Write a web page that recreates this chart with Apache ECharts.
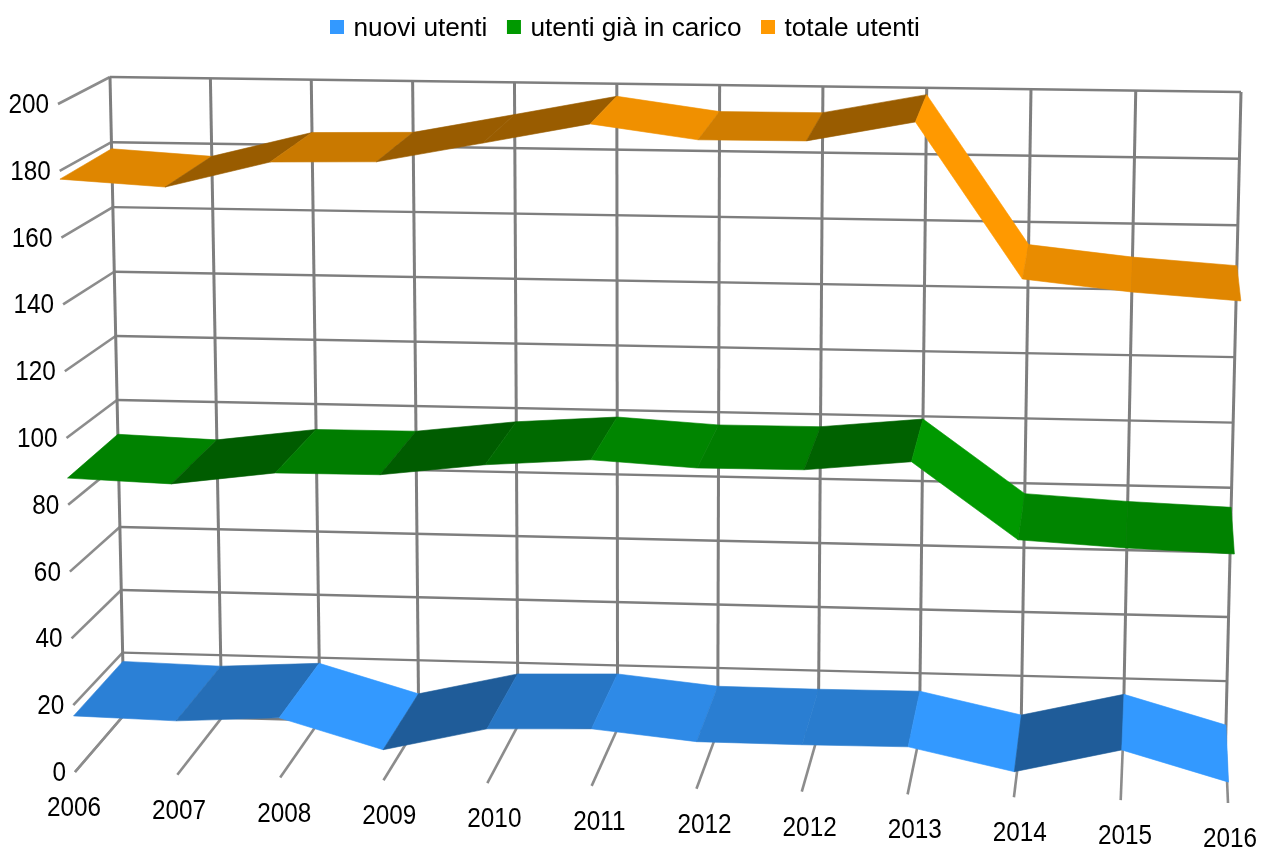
<!DOCTYPE html>
<html>
<head>
<meta charset="utf-8">
<script src="https://cdn.jsdelivr.net/npm/echarts@6/dist/echarts.min.js"></script>
<style>html,body{margin:0;padding:0;background:#fff}#c{width:1262px;height:848px}</style>
</head>
<body>
<div id="c"></div>
<script>
var categories = ['2006','2007','2008','2009','2010','2011','2012','2012','2013','2014','2015','2016'];
var valueTicks = [0,20,40,60,80,100,120,140,160,180,200];
var nuoviUtenti = [16.8,16.1,17.8,9.1,16.1,16.9,13.9,13.8,14,7.5,14.7,6.1];
var utentiGia = [88,86.9,90.8,90.9,94.5,96.6,94.8,94.9,97.9,75.6,73.9,72.8];
var totaleUtenti = [177.5,175.6,183.5,184,190,196.1,191.8,191.9,197.9,152.2,148.9,146.8];

var G = {x:100, y:100, w:1000, h:600};
// pixel corners of the perspective box: [front, back] x [left, right] x [bottom, top]
var F00=[75,772], F10=[1228,803], F01=[58,104], F11=[1245.5,119];
var B00=[124,715], B10=[1225.5,745], B01=[110,77], B11=[1241,92];
function lerp(a,b,t){return [a[0]+(b[0]-a[0])*t, a[1]+(b[1]-a[1])*t];}
function project(api,i,v,d,bow){
  var p = api.coord([i,v]);
  var u = (p[0]-G.x)/G.w, w = (G.y+G.h-p[1])/G.h;
  var t = u + 0.026*u*(u-1);
  var wb = w + (bow||0)*w*(w-1);
  var f = lerp(lerp(F00,F10,t), lerp(F01,F11,t), w);
  var b = lerp(lerp(B00,B10,t), lerp(B01,B11,t), wb);
  return lerp(f,b,d);
}
var maxI = categories.length-1;
var wallBow = 0.025;
function seg(a,b,color,width){
  return {type:'line', shape:{x1:a[0],y1:a[1],x2:b[0],y2:b[1]}, style:{stroke:color,lineWidth:width,lineCap:'butt'}, silent:true};
}
function label(text,x,y,align){
  return {type:'text', x:x, y:y, scaleX:0.9, style:{text:text, x:0, y:0, fill:'#000', fontSize:27, fontFamily:'Liberation Sans', align:align, verticalAlign:'middle'}};
}
function renderValue(params,api){
  var v = api.value(1);
  var fl = project(api,0,v,0), bl = project(api,0,v,1,wallBow), br = project(api,maxI,v,1,wallBow);
  return {type:'group', children:[
    seg(bl,br,'#7e7e7e',2.4),
    seg(fl,bl,'#8c8c8c',2.6),
    label(String(v), fl[0]-9, fl[1]+1.5, 'right')
  ]};
}
function renderCategory(params,api){
  var i = api.value(0);
  var f = project(api,i,0,0), b = project(api,i,0,1,wallBow), t = project(api,i,200,1,wallBow);
  var p = api.coord([i,0]);
  var u = (p[0]-G.x)/G.w;
  return {type:'group', children:[
    seg(b,t,'#7e7e7e',3),
    seg(f,b,'#8c8c8c',2.6),
    label(categories[i], 74+1156*u, 808.5+31*u, 'center')
  ]};
}
function shade(hex,s){
  var n = parseInt(hex.slice(1),16);
  var r = Math.round((n>>16&255)*s), g = Math.round((n>>8&255)*s), b = Math.round((n&255)*s);
  return 'rgb('+r+','+g+','+b+')';
}
function ribbon(base){
  return function(params,api){
    var i = api.value(0), v0 = api.value(1), v1 = api.value(2);
    var slope = v1-v0;
    var s = slope<=0 ? Math.min(1,0.82-0.028*slope) : Math.max(0.6,0.82-0.06*slope);
    var c = shade(base,s);
    return {type:'polygon', shape:{points:[project(api,i,v0,0),project(api,i+1,v1,0),project(api,i+1,v1,1),project(api,i,v0,1)]},
      style:{fill:c,stroke:c,lineWidth:0.6}};
  };
}
function segments(vals){
  var out=[];
  for(var i=0;i<vals.length-1;i++) out.push([i,vals[i],vals[i+1]]);
  return out;
}
function ribbonSeries(name,vals,base){
  return {type:'custom', name:name, coordinateSystem:'cartesian2d', z:3, silent:true, clip:false,
    itemStyle:{color:base}, encode:{x:0,y:1}, data:segments(vals), renderItem:ribbon(base)};
}
var chart = echarts.init(document.getElementById('c'),null,{renderer:'canvas'});
chart.setOption({
  animation:false,
  backgroundColor:'#fff',
  legend:{show:true, left:325, top:11, itemWidth:14, itemHeight:18, itemGap:19.5, icon:'path://M0 0H14V14H0ZM0 18L0.01 18Z',
    selectedMode:false,
    textStyle:{fontFamily:'Liberation Sans', fontSize:26.2, color:'#000', padding:[0,0,0,4.5]},
    data:['nuovi utenti','utenti già in carico','totale utenti']},
  grid:{left:G.x, top:G.y, width:G.w, height:G.h},
  xAxis:{type:'category', data:categories, boundaryGap:false, show:false},
  yAxis:{type:'value', min:0, max:200, interval:20, show:false},
  series:[
    {type:'custom', name:'grid-values', coordinateSystem:'cartesian2d', z:1, silent:true, clip:false, encode:{x:0,y:1},
      data:valueTicks.map(function(v){return [0,v];}), renderItem:renderValue},
    {type:'custom', name:'grid-categories', coordinateSystem:'cartesian2d', z:2, silent:true, clip:false, encode:{x:0,y:1},
      data:categories.map(function(c,i){return [i,0];}), renderItem:renderCategory},
    ribbonSeries('nuovi utenti',nuoviUtenti,'#3399ff'),
    ribbonSeries('utenti già in carico',utentiGia,'#009900'),
    ribbonSeries('totale utenti',totaleUtenti,'#ff9900')
  ]
});
</script>
</body>
</html>
